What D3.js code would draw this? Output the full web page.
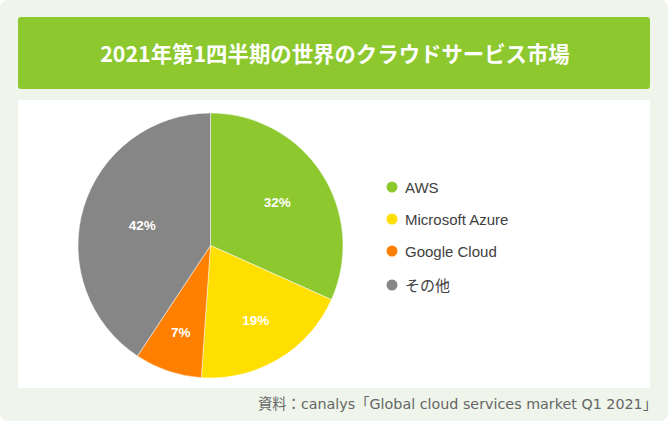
<!DOCTYPE html>
<html>
<head>
<meta charset="utf-8">
<script src="https://d3js.org/d3.v7.min.js"></script>
<style>
  body { margin: 0; background: #ffffff; }
  svg { display: block; }
</style>
</head>
<body>
<div id="chart"></div>
<script>
// data (slice sizes as drawn, labels as printed)
var categories = ["AWS", "Microsoft Azure", "Google Cloud", "その他"];
var shares = [31.7, 19.4, 8.2, 40.7];
var labels = ["32%", "19%", "7%", "42%"];
var colors = ["#8cc82e", "#ffdf00", "#ff8000", "#868686"];
var title = "2021年第1四半期の世界のクラウドサービス市場";
var source = "資料：canalys「Global cloud services market Q1 2021」";

var W = 668, H = 421;

var svg = d3.select("#chart")
  .append("svg")
  .attr("width", W)
  .attr("height", H);

// outer light green frame
svg.append("rect")
  .attr("x", 0).attr("y", 0)
  .attr("width", W).attr("height", H)
  .attr("rx", 8)
  .style("fill", "#eff5ea");

// title bar
svg.append("rect")
  .attr("x", 18).attr("y", 17)
  .attr("width", 632).attr("height", 72)
  .attr("rx", 3)
  .style("fill", "#8cc82e");

svg.append("text")
  .attr("x", 335).attr("y", 52)
  .attr("text-anchor", "middle")
  .attr("dominant-baseline", "central")
  .style("font-family", "'Noto Sans CJK JP', sans-serif")
  .style("font-weight", "bold")
  .style("font-size", "21.4px")
  .style("fill", "#ffffff")
  .text(title);

// white panel
svg.append("rect")
  .attr("x", 18).attr("y", 100)
  .attr("width", 632).attr("height", 288)
  .style("fill", "#ffffff");

// pie
var radius = 132.5;
var g = svg.append("g")
  .attr("transform", "translate(210.5,245.5)");

var data = categories.map(function (c, i) {
  return { name: c, value: shares[i], label: labels[i], color: colors[i] };
});

var pie = d3.pie()
  .sort(null)
  .value(function (d) { return d.value; });

var arc = d3.arc().innerRadius(0).outerRadius(radius);

var arcs = pie(data);

g.selectAll("path")
  .data(arcs)
  .enter()
  .append("path")
  .attr("d", arc)
  .style("fill", function (d) { return d.data.color; })
  .style("stroke", "#ffffff")
  .style("stroke-width", 0.5);

// labels sit at the centroid of each sector
function labelPos(d) {
  var half = (d.endAngle - d.startAngle) / 2;
  var mid = d.startAngle + half;
  var dist = 2 * radius * Math.sin(half) / (3 * half) + 5;
  return [Math.sin(mid) * dist, -Math.cos(mid) * dist];
}

g.selectAll("text")
  .data(arcs)
  .enter()
  .append("text")
  .attr("transform", function (d) { return "translate(" + labelPos(d) + ")"; })
  .attr("text-anchor", "middle")
  .attr("dominant-baseline", "central")
  .style("font-family", "'Liberation Sans', Arial, sans-serif")
  .style("font-weight", "bold")
  .style("font-size", "13.5px")
  .style("fill", "#ffffff")
  .text(function (d) { return d.data.label; });

// legend
var legend = svg.append("g")
  .attr("transform", "translate(392,187)");

var item = legend.selectAll("g")
  .data(data)
  .enter()
  .append("g")
  .attr("transform", function (d, i) { return "translate(0," + (i * 32 + (i == 3 ? 2 : 0)) + ")"; });

item.append("circle")
  .attr("r", 5.5)
  .style("fill", function (d) { return d.color; });

item.append("text")
  .attr("x", 13)
  .attr("dominant-baseline", "central")
  .style("font-family", "'Liberation Sans', Arial, 'Noto Sans CJK JP', sans-serif")
  .style("font-size", "15px")
  .style("fill", "#404040")
  .text(function (d) { return d.name; });

// source note
svg.append("text")
  .attr("x", 657).attr("y", 404)
  .attr("text-anchor", "end")
  .attr("dominant-baseline", "central")
  .style("font-family", "'DejaVu Sans', 'Noto Sans CJK JP', sans-serif")
  .style("font-size", "14.3px")
  .style("fill", "#666666")
  .text(source);
</script>
</body>
</html>
